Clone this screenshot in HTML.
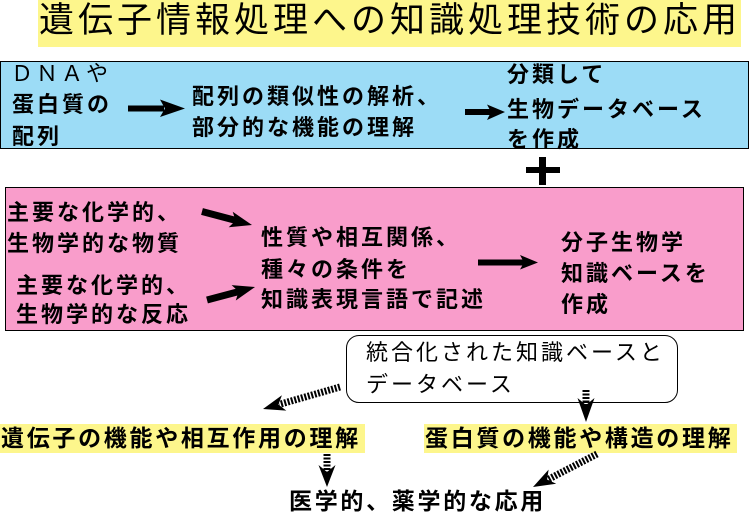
<!DOCTYPE html>
<html lang="ja">
<head>
<meta charset="utf-8">
<style>
  html, body { margin:0; padding:0; }
  body { width:750px; height:513px; position:relative; overflow:hidden; background:#ffffff;
         font-family:"Liberation Sans","Noto Sans CJK JP",sans-serif; }
  .box { position:absolute; box-sizing:border-box; }
  .t { position:absolute; white-space:nowrap; font-size:22px; letter-spacing:3px;
       line-height:30px; height:30px; font-weight:bold; color:#000;
       font-family:"Liberation Sans","Noto Sans CJK JP",sans-serif; }
  .title { position:absolute; white-space:nowrap; font-size:35px; letter-spacing:4px;
       line-height:40px; height:40px; color:#000; font-weight:normal;
       font-family:"Liberation Sans","Noto Sans CJK JP",sans-serif; }
  .lbl { font-size:23px; letter-spacing:2.7px; }
  svg { position:absolute; left:0; top:0; }
</style>
</head>
<body>
  <!-- title -->
  <div class="box" style="left:38px;top:0;width:703px;height:47px;background:#fdf68c;"></div>
  <div class="title" style="left:39px;top:1px;">遺伝子情報処理への知識処理技術の応用</div>

  <!-- blue box -->
  <div class="box" style="left:0;top:61px;width:749px;height:88px;background:#9cdcf6;border:1px solid #000;"></div>
  <div class="t" style="left:11px;top:59px;font-weight:normal;">ＤＮＡや</div>
  <div class="t" style="left:12px;top:90px;">蛋白質の</div>
  <div class="t" style="left:12px;top:122px;">配列</div>
  <div class="t" style="left:192px;top:82px;">配列の類似性の解析、</div>
  <div class="t" style="left:192px;top:113px;">部分的な機能の理解</div>
  <div class="t" style="left:507px;top:60px;">分類して</div>
  <div class="t" style="left:507px;top:95px;">生物データベース</div>
  <div class="t" style="left:507px;top:125px;">を作成</div>

  <!-- pink box -->
  <div class="box" style="left:5px;top:187px;width:739px;height:144px;background:#f99dcb;border:1px solid #000;"></div>
  <div class="t" style="left:7px;top:198px;">主要な化学的、</div>
  <div class="t" style="left:7px;top:229px;">生物学的な物質</div>
  <div class="t" style="left:16px;top:271px;">主要な化学的、</div>
  <div class="t" style="left:16px;top:300px;">生物学的な反応</div>
  <div class="t" style="left:261px;top:223px;">性質や相互関係、</div>
  <div class="t" style="left:261px;top:255px;">種々の条件を</div>
  <div class="t" style="left:261px;top:285px;">知識表現言語で記述</div>
  <div class="t" style="left:561px;top:228px;">分子生物学</div>
  <div class="t" style="left:561px;top:259px;">知識ベースを</div>
  <div class="t" style="left:561px;top:290px;">作成</div>

  <!-- rounded box -->
  <div class="box" style="left:346px;top:335px;width:332px;height:68px;background:#fff;border:1px solid #000;border-radius:13px;"></div>
  <div class="t" style="left:366px;top:338px;font-weight:normal;">統合化された知識ベースと</div>
  <div class="t" style="left:366px;top:370px;font-weight:normal;">データベース</div>

  <!-- yellow labels -->
  <div class="box" style="left:0;top:424px;width:365px;height:29px;background:#fdf68c;"></div>
  <div class="t lbl" style="left:1px;top:423px;">遺伝子の機能や相互作用の理解</div>
  <div class="box" style="left:424px;top:424px;width:313px;height:29px;background:#fdf68c;"></div>
  <div class="t lbl" style="left:425px;top:423px;">蛋白質の機能や構造の理解</div>

  <div class="t lbl" style="left:289px;top:486px;">医学的、薬学的な応用</div>

  <svg width="750" height="513" viewBox="0 0 750 513">
    <!-- plus -->
    <rect x="526" y="167" width="34" height="6" fill="#000"/>
    <rect x="539" y="157" width="7" height="28" fill="#000"/>

    <!-- blue arrows -->
    <rect x="128" y="105.5" width="36" height="6" fill="#000"/>
    <polygon points="160,99.5 185,108.5 160,117 165,108.5" fill="#000"/>
    <rect x="465" y="109" width="26" height="6" fill="#000"/>
    <polygon points="487,104.5 505,112 487,120 491,112" fill="#000"/>

    <!-- pink arrows -->
    <line x1="202" y1="211.5" x2="236" y2="220.5" stroke="#000" stroke-width="7"/>
    <polygon points="252,225 228.7,227.2 235.6,220.7 232.7,211.8" fill="#000"/>
    <line x1="207" y1="300" x2="239" y2="291.5" stroke="#000" stroke-width="7"/>
    <polygon points="255,287 235.8,300.5 238.6,291.5 231.6,285.1" fill="#000"/>
    <rect x="478" y="259.5" width="48" height="6" fill="#000"/>
    <polygon points="520,255 538,262.5 520,269.5 524,262.5" fill="#000"/>

    <!-- hatched arrows -->
    <line x1="340" y1="387" x2="279" y2="404.5" stroke="#000" stroke-width="7" stroke-dasharray="2 1.5"/>
    <polygon points="263,409 286.3,410.6 278.4,404.6 281.9,395.3" fill="#000"/>

    <line x1="586" y1="390" x2="586" y2="405" stroke="#000" stroke-width="7" stroke-dasharray="2 1.5"/>
    <polygon points="586,422 577.5,398 586,405 594.5,398" fill="#000"/>

    <line x1="327" y1="454" x2="327" y2="472" stroke="#000" stroke-width="7" stroke-dasharray="2 1.5"/>
    <polygon points="327,487 318.5,465 327,472 335.5,465" fill="#000"/>

    <line x1="597" y1="454" x2="548" y2="479.5" stroke="#000" stroke-width="7" stroke-dasharray="2 1.5"/>
    <polygon points="533,487 556.2,483.8 547.1,479.5 548.6,469.6" fill="#000"/>
  </svg>
</body>
</html>
